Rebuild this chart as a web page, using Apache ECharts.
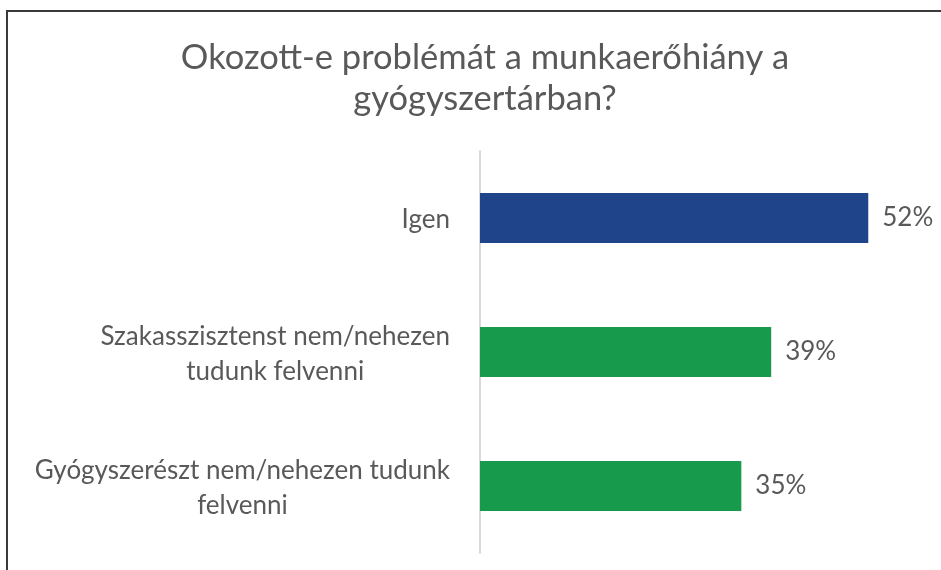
<!DOCTYPE html>
<html>
<head>
<meta charset="utf-8">
<script src="https://cdn.jsdelivr.net/npm/echarts@6/dist/echarts.min.js"></script>
<style>
html,body{margin:0;padding:0;background:#fff;}
#wrap{position:relative;width:941px;height:570px;overflow:hidden;}
#chart{position:absolute;left:0;top:0;width:941px;height:570px;}
#frame{position:absolute;left:6px;top:10px;width:960px;height:600px;border-top:2px solid #3a3a3a;border-left:2px solid #3a3a3a;pointer-events:none;}
</style>
</head>
<body>
<div id="wrap"><div id="chart"></div><div id="frame"></div></div>
<script>
const titleText = 'Okozott-e problémát a munkaerőhiány a\ngyógyszertárban?';
const categories = ['Igen', 'Szakasszisztenst nem/nehezen\ntudunk felvenni', 'Gyógyszerészt nem/nehezen tudunk\nfelvenni'];
const values = [52, 39, 35];
const barColors = ['#1f4489', '#179a4b', '#179a4b'];

const FONT = 'Lato, "Open Sans", sans-serif';
const chart = echarts.init(document.getElementById('chart'));
chart.setOption({
  animation: false,
  backgroundColor: '#ffffff',
  title: {
    text: titleText,
    left: 480,
    top: 32,
    textAlign: 'center',
    textStyle: { fontFamily: FONT, fontSize: 34.5, fontWeight: 'normal', color: '#595959', lineHeight: 41, align: 'center' }
  },
  grid: { left: 480, top: 151, width: 448, height: 402, containLabel: false },
  xAxis: {
    type: 'value', min: 0, max: 60,
    show: false
  },
  yAxis: {
    type: 'category',
    data: categories,
    inverse: true,
    axisLine: { show: true, lineStyle: { color: '#d9d9d9', width: 2 } },
    axisTick: { show: false },
    axisLabel: {
      margin: 30,
      align: 'right',
      formatter: v => '{a|' + v + '}',
      rich: { a: { fontFamily: FONT, fontSize: 26, color: '#595959', lineHeight: 35, align: 'center', padding: [4, 0, 0, 0] } }
    },
    splitLine: { show: false }
  },
  series: [{
    type: 'bar',
    data: values.map((v, i) => ({ value: v, itemStyle: { color: barColors[i] } })),
    barWidth: 50,
    label: {
      show: true, position: 'right', distance: 14,
      formatter: p => p.value + '%',
      fontFamily: FONT, fontSize: 26, color: '#595959'
    }
  }]
});
</script>
</body>
</html>
